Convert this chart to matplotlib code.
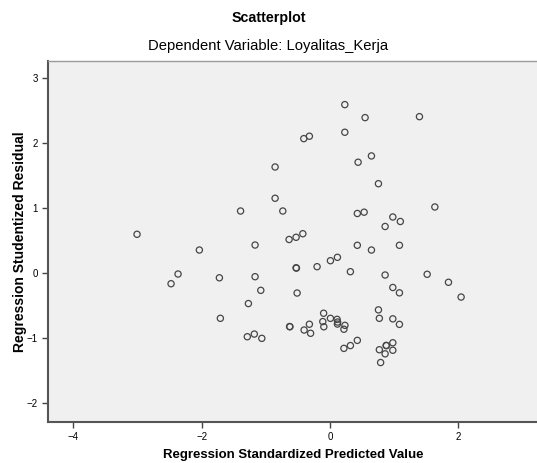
import matplotlib
matplotlib.use("Agg")
import matplotlib.pyplot as plt

plt.rcParams["font.family"] = ["Liberation Sans", "DejaVu Sans"]

# regression standardized predicted value (x) vs studentized residual (y)
pred = [-3.008, -2.037, -1.395, -1.169, -0.857, -0.857, -0.737, -0.639, -0.530, -0.425,
        -0.410, -0.323, 0.229, 0.229, 0.545, 1.392, 0.644, 0.436, 0.753, 1.632,
        0.424, 0.530, 0.977, 1.094, 0.857, 0.424, 0.644, 1.080, -2.478, -2.369,
        -1.725, -1.169, -1.080, -1.273, -1.710, -1.290, -1.181, -1.064, -0.530, -0.525,
        -0.203, 0.005, 0.114, 0.316, 0.857, 1.512, 1.844, 2.041, 0.977, 1.080,
        -0.514, 0.753, 0.767, 0.977, 1.080, -0.101, -0.114, -0.098, 0.005, 0.109,
        0.117, 0.114, 0.231, 0.215, -0.631, -0.626, -0.323, -0.405, -0.304, 0.215,
        0.316, 0.424, 0.767, 0.873, 0.878, 0.977, 0.977, 0.857, 0.787]
resid = [0.600, 0.358, 0.958, 0.435, 1.635, 1.154, 0.958, 0.520, 0.554, 0.609,
         2.071, 2.108, 2.594, 2.169, 2.394, 2.409, 1.805, 1.708, 1.378, 1.020,
         0.920, 0.940, 0.866, 0.797, 0.720, 0.431, 0.358, 0.431, -0.160, -0.011,
         -0.069, -0.052, -0.262, -0.465, -0.692, -0.975, -0.934, -1.000, 0.085, 0.080,
         0.102, 0.194, 0.246, 0.025, -0.026, -0.015, -0.138, -0.365, -0.218, -0.300,
         -0.303, -0.562, -0.692, -0.700, -0.785, -0.614, -0.742, -0.822, -0.692, -0.708,
         -0.749, -0.780, -0.800, -0.860, -0.818, -0.822, -0.783, -0.872, -0.922, -1.154,
         -1.111, -1.031, -1.175, -1.108, -1.112, -1.068, -1.183, -1.238, -1.372]

xticks = [-4, -2, 0, 2]
yticks = [-2, -1, 0, 1, 2, 3]

fig = plt.figure(figsize=(5.37, 4.63), dpi=100)
ax = fig.add_axes([0.09, 0.089, 0.912, 0.78])
ax.set_facecolor("#f0f0f0")

ax.scatter(pred, resid, s=20, facecolors="none", edgecolors="#464646", linewidths=0.9)

ax.set_xlim(-4.39, 3.24)
ax.set_ylim(-2.283, 3.27)
ax.set_xticks(xticks)
ax.set_yticks(yticks)
ax.tick_params(labelsize=7, length=4.5, width=1, color="#444444", pad=3)

for side in ["left", "bottom"]:
    ax.spines[side].set_color("#555555")
    ax.spines[side].set_linewidth(1.5)
for side in ["top", "right"]:
    ax.spines[side].set_color("#9a9a9a")
    ax.spines[side].set_linewidth(1.0)

ax.set_xlabel("Regression Standardized Predicted Value", fontsize=9.5, fontweight="bold", labelpad=5)
ax.set_ylabel("Regression Studentized Residual", fontsize=10, fontweight="bold", labelpad=0)

fig.text(0.5, 0.962, "Scatterplot", ha="center", va="center", fontsize=10.3, fontweight="bold")
fig.text(0.5, 0.901, "Dependent Variable: Loyalitas_Kerja", ha="center", va="center", fontsize=10.6)

fig.savefig("out.png", dpi=100)
